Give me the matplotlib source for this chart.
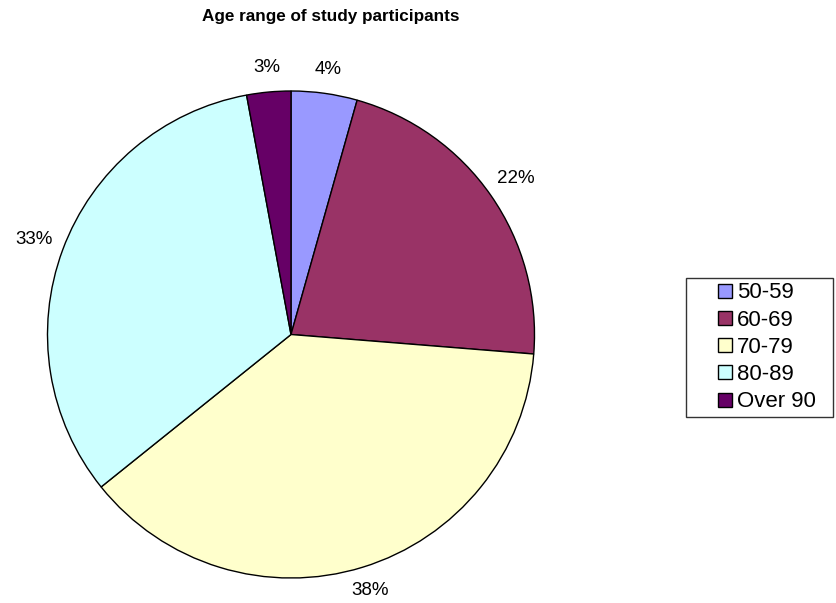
import matplotlib
matplotlib.use("Agg")
import matplotlib.pyplot as plt
from matplotlib.lines import Line2D
import numpy as np

plt.rcParams['font.family'] = ['Liberation Sans', 'DejaVu Sans']

categories = ["50-59", "60-69", "70-79", "80-89", "Over 90"]
counts = [6, 30, 52, 45, 4]
colors = ["#9999FF", "#993366", "#FFFFCC", "#CCFFFF", "#660066"]
title = "Age range of study participants"

W, H = 836, 603
fig = plt.figure(figsize=(W / 100, H / 100), dpi=100)
fig.patch.set_facecolor("white")

cx, cy, R = 291, 334.5, 243.5
ax = fig.add_axes([(cx - R) / W, (H - cy - R) / H, 2 * R / W, 2 * R / H])
wedges, texts, autotexts = ax.pie(
    counts, colors=colors, startangle=90, counterclock=False,
    autopct=lambda p: f"{p:.0f}%", pctdistance=1.125,
    wedgeprops=dict(edgecolor="black", linewidth=1.0),
    textprops=dict(fontsize=13.5, color="black"), radius=1.0)
ax.set_xlim(-1, 1)
ax.set_ylim(-1, 1)
ax.set_aspect("auto")
ax.axis("off")

# label distance per slice (outside the pie, like the original)
for w, t in zip(wedges, autotexts):
    frac = (w.theta2 - w.theta1) / 360
    mid = (w.theta1 + w.theta2) / 2
    if frac < 0.1:
        d = 1.10
    elif np.sin(np.deg2rad(mid)) < -0.9:
        d = 1.10
    else:
        d = 1.125
    ang = np.deg2rad(mid)
    t.set_position((d * np.cos(ang), d * np.sin(ang)))

fig.text(331 / W, 1 - 16 / H, title, ha="center", va="center",
         fontsize=12.3, fontweight="bold")

fs = 16
fs_px = fs * 100 / 72
bp = 0.2
left_px, top_px, right_px = 686, 278, 833
marker_center_px = 724.5
text_start_px = 737
hl = (marker_center_px - left_px - bp * fs_px) * 2 / fs_px
htp = (text_start_px - (left_px + bp * fs_px + hl * fs_px)) / fs_px

handles = [Line2D([], [], linestyle="none", marker="s", markersize=10.5,
                  markerfacecolor=c, markeredgecolor="black", markeredgewidth=1.0)
           for c in colors]
ytop = 1 - top_px / H
leg = fig.legend(handles, categories, loc="upper left",
                 bbox_to_anchor=(left_px / W, ytop - 0.01, (right_px - left_px) / W, 0.01),
                 mode="expand",
                 fontsize=fs, frameon=True, fancybox=False, shadow=False,
                 borderpad=bp, labelspacing=0.28, handlelength=hl,
                 handletextpad=htp, borderaxespad=0)
leg.get_frame().set_edgecolor("black")
leg.get_frame().set_linewidth(1.0)

fig.savefig("out.png", dpi=100, facecolor="white")
